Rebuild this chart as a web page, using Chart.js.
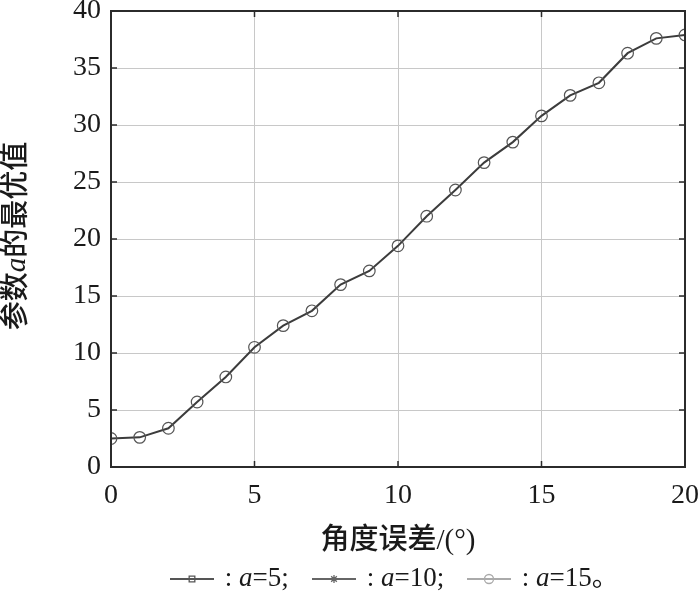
<!DOCTYPE html>
<html>
<head>
<meta charset="utf-8">
<script src="https://cdn.jsdelivr.net/npm/chart.js@4"></script>
<style>
  html, body { margin: 0; padding: 0; background: #fff; }
  #wrap { width: 700px; height: 598px; }
</style>
</head>
<body>
<div id="wrap"><canvas id="chart" width="700" height="598"></canvas></div>
<script>
// angle error (deg) vs. optimal value of parameter a
const angleErr = [0, 1, 2, 3, 4, 5, 6, 7, 8, 9, 10, 11, 12, 13, 14, 15, 16, 17, 18, 19, 20]
const aOptimal = [2.5, 2.6, 3.4, 5.7, 7.9, 10.5, 12.4, 13.7, 16.0, 17.2, 19.4, 22.0, 24.3, 26.7, 28.5, 30.8, 32.6, 33.7, 36.3, 37.6, 37.9]
const xTicks = [0, 5, 10, 15, 20]
const yTicks = [0, 5, 10, 15, 20, 25, 30, 35, 40]
const legendItems = ['5', '10', '15']

const serif = "'Liberation Serif', 'Times New Roman', serif"
const cjk = "'Liberation Serif', 'Noto Sans CJK SC', serif"

// draw text made of parts, some italic
function drawParts(ctx, parts, x, y, size, align) {
    let widths = parts.map(p => {
        ctx.font = (p.italic ? 'italic ' : '') + (p.weight || '') + ' ' + size + 'px ' + (p.family || cjk)
        return ctx.measureText(p.text).width
    })
    let total = widths.reduce((a, b) => a + b, 0)
    let cx = align === 'center' ? x - total / 2 : x
    ctx.textAlign = 'left'
    ctx.textBaseline = 'middle'
    parts.forEach((p, i) => {
        ctx.font = (p.italic ? 'italic ' : '') + (p.weight || '') + ' ' + size + 'px ' + (p.family || cjk)
        ctx.fillText(p.text, cx, y)
        cx += widths[i]
    })
    return cx
}

const framePlugin = {
    id: 'frame',
    afterDraw(chart) {
        const ctx = chart.ctx
        const a = chart.chartArea
        const xs = chart.scales.x
        const ys = chart.scales.y
        ctx.save()
        // box
        ctx.strokeStyle = '#2b2b2b'
        ctx.lineWidth = 2
        ctx.strokeRect(a.left, a.top, a.right - a.left, a.bottom - a.top)
        // inward ticks
        ctx.lineWidth = 1.5
        ctx.beginPath()
        for (let v of xTicks) {
            let px = xs.getPixelForValue(v)
            ctx.moveTo(px, a.bottom); ctx.lineTo(px, a.bottom - 6)
            ctx.moveTo(px, a.top); ctx.lineTo(px, a.top + 6)
        }
        for (let v of yTicks) {
            let py = ys.getPixelForValue(v)
            ctx.moveTo(a.left, py); ctx.lineTo(a.left + 6, py)
            ctx.moveTo(a.right, py); ctx.lineTo(a.right - 6, py)
        }
        ctx.stroke()

        ctx.fillStyle = '#1a1a1a'
        // x title
        drawParts(ctx, [{text: '角度误差/(°)', weight: '500'}], (a.left + a.right) / 2, 541, 29, 'center')
        // y title
        ctx.save()
        ctx.translate(17, 236)
        ctx.rotate(-Math.PI / 2)
        drawParts(ctx, [
            {text: '参数', weight: '500'},
            {text: 'a', italic: true, family: serif},
            {text: '的最优值', weight: '500'}
        ], 0, 0, 29, 'center')
        ctx.restore()

        // legend
        const styles = [
            {color: '#555', point: 'rect', radius: 4, fill: 'rgba(0,0,0,0)'},
            {color: '#666', point: 'star', radius: 4, fill: '#666'},
            {color: '#aaa', point: 'circle', radius: 4.5, fill: 'rgba(0,0,0,0)'}
        ]
        const starts = [170, 312, 467]
        const ly = 579
        legendItems.forEach((lab, i) => {
            let s = styles[i]
            let x0 = starts[i]
            ctx.strokeStyle = s.color
            ctx.lineWidth = 2
            ctx.beginPath()
            ctx.moveTo(x0, ly); ctx.lineTo(x0 + 44, ly)
            ctx.stroke()
            ctx.fillStyle = s.fill
            ctx.lineWidth = 1.3
            Chart.helpers.drawPoint(ctx, {pointStyle: s.point, radius: s.radius, borderWidth: 1.3, rotation: 0}, x0 + 22, ly)
            ctx.fillStyle = '#1a1a1a'
            drawParts(ctx, [
                {text: ' : ', family: serif},
                {text: 'a', italic: true, family: serif},
                {text: '=' + lab + (i < 2 ? ';' : '。'), family: cjk}
            ], x0 + 48, ly, 27, 'left')
        })
        ctx.restore()
    }
}

const ctx = document.getElementById('chart').getContext('2d')

const myChart = new Chart(ctx, {
    type: 'line',
    data: {
        datasets: [{
            label: 'a',
            data: angleErr.map((x, i) => ({x: x, y: aOptimal[i]})),
            borderColor: '#3c3c3c',
            borderWidth: 2,
            pointStyle: 'circle',
            pointRadius: 5.8,
            pointBorderWidth: 1.2,
            pointBorderColor: '#555',
            pointBackgroundColor: 'rgba(0,0,0,0)',
            tension: 0
        }]
    },
    options: {
        responsive: false,
        animation: false,
        layout: { padding: { left: 0, top: 11, right: 15, bottom: 0 } },
        plugins: {
            legend: { display: false },
            tooltip: { enabled: false }
        },
        scales: {
            x: {
                type: 'linear',
                min: 0,
                max: 20,
                afterFit: s => { s.height = 131; s.paddingLeft = 0; s.paddingRight = 0 },
                afterBuildTicks: s => { s.ticks = xTicks.map(v => ({value: v})) },
                ticks: {
                    color: '#1a1a1a',
                    font: { family: serif, size: 28 },
                    padding: 12,
                    maxRotation: 0
                },
                grid: {
                    drawTicks: false,
                    color: c => (c.tick.value === 0 || c.tick.value === 20) ? 'rgba(0,0,0,0)' : '#c8c8c8',
                    lineWidth: 1
                },
                border: { display: false }
            },
            y: {
                min: 0,
                max: 40,
                afterFit: s => { s.width = 111; s.paddingTop = 0; s.paddingBottom = 0 },
                afterBuildTicks: s => { s.ticks = yTicks.map(v => ({value: v})) },
                ticks: {
                    color: '#1a1a1a',
                    font: { family: serif, size: 28 },
                    padding: 10
                },
                grid: {
                    drawTicks: false,
                    color: c => (c.tick.value === 0 || c.tick.value === 40) ? 'rgba(0,0,0,0)' : '#c8c8c8',
                    lineWidth: 1
                },
                border: { display: false }
            }
        }
    },
    plugins: [framePlugin]
})
</script>
</body>
</html>
